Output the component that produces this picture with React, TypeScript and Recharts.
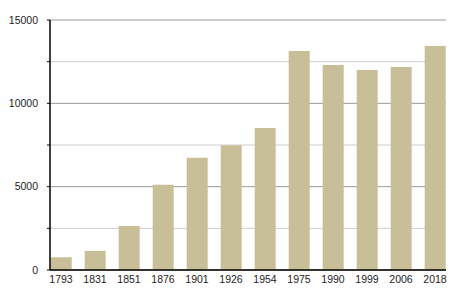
import React from 'react';
import { BarChart, Bar, XAxis, YAxis, CartesianGrid } from 'recharts';

const years = ['1793', '1831', '1851', '1876', '1901', '1926', '1954', '1975', '1990', '1999', '2006', '2018'];
const population = [760, 1150, 2640, 5120, 6740, 7480, 8520, 13140, 12300, 12000, 12180, 13440];
const yTicks = [0, 2500, 5000, 7500, 10000, 12500, 15000];

const data = years.map((year, i) => ({ year, population: population[i] }));

const gridLine = (props: any) => {
  const major = props.index % 2 === 0;
  return (
    <line
      key={props.key}
      x1={props.x1}
      y1={props.y1}
      x2={props.x2}
      y2={props.y2}
      stroke={major ? '#999999' : '#cccccc'}
      strokeWidth={1}
    />
  );
};

const tickStyle = { fill: '#222', fontSize: 10.5, fontFamily: 'Liberation Sans, Arial, sans-serif' };

const App: React.FC = () => {
  return (
    <div style={{ position: 'absolute', left: 0, top: 0, width: 455, height: 300, background: '#fff' }}>
      <BarChart
        width={455}
        height={300}
        data={data}
        margin={{ top: 20, right: 9, left: 0, bottom: 0 }}
        barCategoryGap="19.7%"
      >
        <CartesianGrid vertical={false} horizontal={gridLine} />
        <XAxis
          dataKey="year"
          height={30}
          padding={{ left: -6, right: -6 }}
          tickLine={false}
          tickSize={4}
          axisLine={{ stroke: '#000', strokeWidth: 1.5 }}
          tick={tickStyle}
          interval={0}
        />
        <YAxis
          width={50}
          domain={[0, 15000]}
          ticks={yTicks}
          interval={0}
          tickSize={3}
          tickMargin={9}
          tickLine={{ stroke: '#000' }}
          axisLine={{ stroke: '#000', strokeWidth: 1.5 }}
          tickFormatter={(v: number) => (v % 5000 === 0 ? String(v) : '')}
          tick={tickStyle}
        />
        <Bar dataKey="population" fill="#c8bf99" isAnimationActive={false} />
      </BarChart>
    </div>
  );
};

export default App;
